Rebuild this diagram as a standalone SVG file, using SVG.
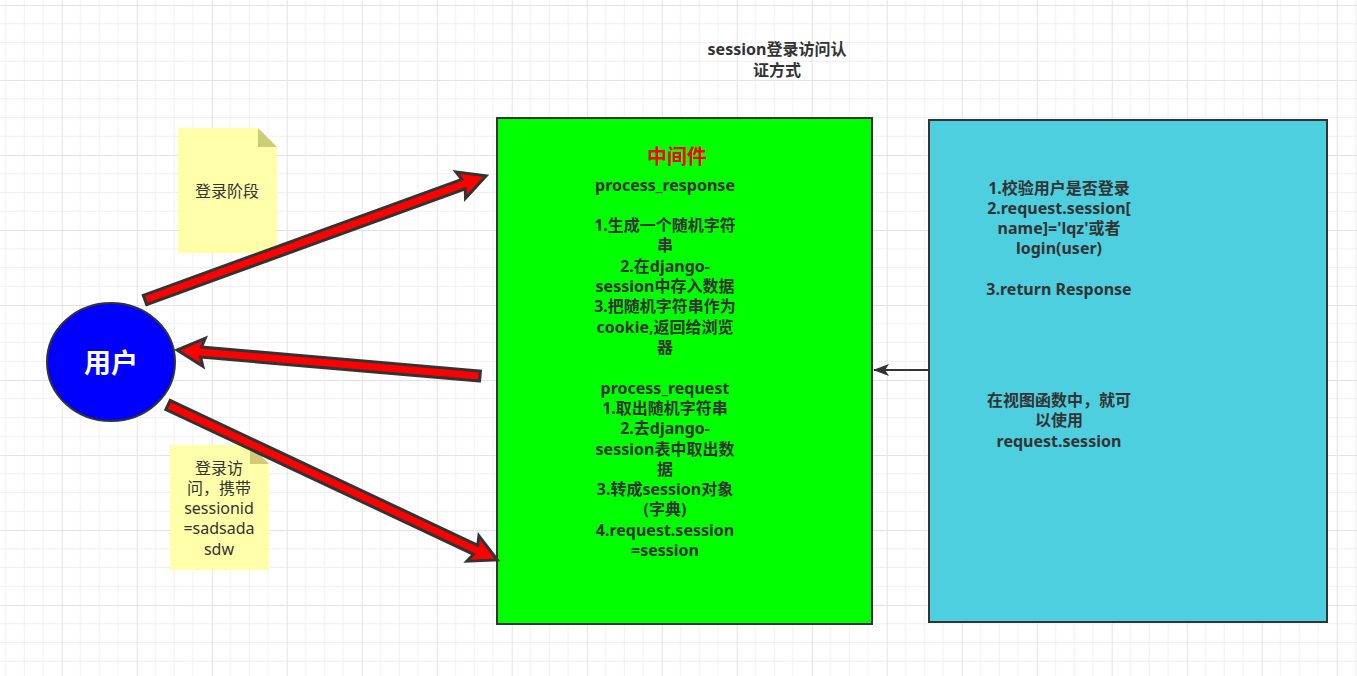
<svg xmlns="http://www.w3.org/2000/svg" width="1357" height="676" viewBox="0 0 1357 676">
<defs>
<pattern id="grid" x="-13.3" y="5" width="75" height="75" patternUnits="userSpaceOnUse">
<path d="M18.75,0V75M37.5,0V75M56.25,0V75M0,18.75H75M0,37.5H75M0,56.25H75" stroke="#f0f0f0" stroke-width="1" fill="none"/>
<path d="M0.5,0V75M0,0.5H75" stroke="#e3e3e3" stroke-width="1" fill="none"/>
</pattern>
<marker id="ah" markerWidth="16" markerHeight="12" refX="15" refY="6" orient="auto" markerUnits="userSpaceOnUse">
<path d="M0,0 L16,6 L0,12 L4,6 Z" fill="#333"/>
</marker>
<style>
.t{font-family:"Noto Sans","Noto Sans CJK SC",sans-serif;font-size:16px;font-weight:bold;fill:#333;text-anchor:middle;dominant-baseline:central}
.n{font-family:"Noto Sans","Noto Sans CJK SC",sans-serif;font-size:16px;fill:#333;text-anchor:middle;dominant-baseline:central}
.box{stroke:#333;stroke-width:2}
.big{fill:#ff0000;stroke:#333;stroke-width:3;stroke-linejoin:miter}
.note{fill:#ffffaa}
.fold{fill:#cfcb78}
</style>
</defs>
<rect width="1357" height="676" fill="#ffffff"/>
<rect width="1357" height="676" fill="url(#grid)"/>

<g id="title">
<text class="t" x="777" y="49">session登录访问认</text>
<text class="t" x="777" y="70">证方式</text>
</g>

<g id="note-login">
<path class="note" d="M178,128 H258 L277,147 V253 H178 Z"/>
<path class="fold" d="M258,128 V147 H277 Z"/>
<text class="n" x="227" y="191">登录阶段</text>
</g>

<g id="note-visit">
<path class="note" d="M170,445 H250 L269,464 V570 H170 Z"/>
<path class="fold" d="M250,445 V464 H269 Z"/>
<text class="n" x="219" y="468">登录访</text>
<text class="n" x="219" y="488">问，携带</text>
<text class="n" x="219" y="508">sessionid</text>
<text class="n" x="219" y="528">=sadsada</text>
<text class="n" x="219" y="549">sdw</text>
</g>

<g id="user">
<ellipse class="box" cx="111" cy="362" rx="64" ry="59" fill="#0000ff"/>
<text x="111" y="361" font-family="Noto Sans CJK SC, sans-serif" font-size="27" font-weight="bold" fill="#ffffff" text-anchor="middle" dominant-baseline="central">用户</text>
</g>

<g id="middleware">
<rect class="box" x="497" y="118" width="375" height="506" fill="#00ff00"/>
<text x="677" y="155" font-family="Noto Sans CJK SC, sans-serif" font-size="20" font-weight="bold" fill="#ff0000" text-anchor="middle" dominant-baseline="central">中间件</text>
<text class="t" x="665" y="185">process_response</text>
<text class="t" x="665" y="225">1.生成一个随机字符</text>
<text class="t" x="665" y="245">串</text>
<text class="t" x="665" y="266">2.在django-</text>
<text class="t" x="665" y="286">session中存入数据</text>
<text class="t" x="665" y="306">3.把随机字符串作为</text>
<text class="t" x="665" y="327">cookie,返回给浏览</text>
<text class="t" x="665" y="347">器</text>
<text class="t" x="665" y="388">process_request</text>
<text class="t" x="665" y="408">1.取出随机字符串</text>
<text class="t" x="665" y="428">2.去django-</text>
<text class="t" x="665" y="449">session表中取出数</text>
<text class="t" x="665" y="469">据</text>
<text class="t" x="665" y="489">3.转成session对象</text>
<text class="t" x="665" y="509">(字典)</text>
<text class="t" x="665" y="530">4.request.session</text>
<text class="t" x="665" y="550">=session</text>
</g>

<g id="view">
<rect class="box" x="929" y="120" width="398" height="502" fill="#4ecfe0"/>
<text class="t" x="1059" y="188">1.校验用户是否登录</text>
<text class="t" x="1059" y="208">2.request.session[</text>
<text class="t" x="1059" y="228">name]='lqz'或者</text>
<text class="t" x="1059" y="248">login(user)</text>
<text class="t" x="1059" y="289">3.return Response</text>
<text class="t" x="1059" y="400">在视图函数中，就可</text>
<text class="t" x="1059" y="420">以使用</text>
<text class="t" x="1059" y="441">request.session</text>
</g>

<g id="connectors">
<path class="big" transform="translate(145,300) rotate(-20)" d="M0,-5 H339 L336,-14 L363,0 L336,14 L339,5 H0 Z"/>
<path class="big" transform="translate(480,376) rotate(184.9)" d="M0,-5 H280 L277,-14 L304,0 L277,14 L280,5 H0 Z"/>
<path class="big" transform="translate(168,405) rotate(25.2)" d="M0,-5 H340 L337,-14 L364,0 L337,14 L340,5 H0 Z"/>
<line x1="929" y1="370" x2="874" y2="370" stroke="#333" stroke-width="2" marker-end="url(#ah)"/>
</g>
</svg>
